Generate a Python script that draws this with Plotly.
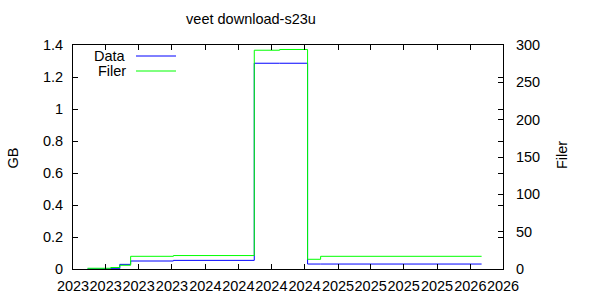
import plotly.graph_objects as go

# Data
dates = ["2023-02-10", "2023-04-15", "2023-05-10", "2023-06-09", "2023-10-05",
         "2024-05-15", "2024-07-24", "2024-10-09", "2024-11-14", "2026-02-01"]
data_gb = [0.0005, 0.002, 0.029, 0.050, 0.054, 1.286, 1.286, 0.031, 0.031, 0.031]
filer = [1, 2, 5, 17, 18, 293, 294, 13, 17, 17]

title_text = "veet download-s23u"
FONT = "Liberation Sans, Arial, sans-serif"
FS = 14.5

fig = go.Figure()
fig.add_trace(go.Scatter(x=dates, y=data_gb, mode="lines", line=dict(color="#0000ff", width=1, shape="hv"),
                         name="Data", yaxis="y", showlegend=False))
fig.add_trace(go.Scatter(x=dates, y=filer, mode="lines", line=dict(color="#00ff00", width=1, shape="hv"),
                         name="Filer", yaxis="y2", showlegend=False))

axis_common = dict(showline=True, linecolor="black", linewidth=1, ticks="inside", ticklen=5,
                   tickcolor="black", showgrid=False, zeroline=False, automargin=False,
                   tickfont=dict(family=FONT, size=FS, color="black"))

fig.update_layout(
    width=600, height=300,
    margin=dict(l=73, r=97, t=45, b=31),
    paper_bgcolor="white", plot_bgcolor="white",
    font=dict(family=FONT, size=FS, color="black"),
    title=dict(text=title_text, x=251/600, xanchor="center", y=1-19/300, yanchor="middle",
               font=dict(family=FONT, size=FS, color="black")),
    xaxis=dict(type="date", range=["2023-01-01", "2026-04-01"], tick0="2023-01-01", dtick="M3",
               tickformat="%Y", tickangle=0, mirror="ticks", ticklabelstandoff=4, **axis_common),
    yaxis=dict(range=[0, 1.4], dtick=0.2, mirror="ticks", ticklabelstandoff=6, **axis_common),
    yaxis2=dict(range=[0, 300], dtick=50, overlaying="y", side="right", ticklabelstandoff=9, **axis_common),
    showlegend=False,
)

# Axis titles
fig.add_annotation(text="GB", xref="paper", yref="paper", x=(12.5-73)/430, y=(269-158)/224, textangle=-90,
                   xanchor="center", yanchor="middle",
                   showarrow=False, font=dict(family=FONT, size=FS, color="black"))
fig.add_annotation(text="Filer", xref="paper", yref="paper", x=(562-73)/430, y=(269-155)/224, textangle=-90,
                   xanchor="center", yanchor="middle",
                   showarrow=False, font=dict(family=FONT, size=FS, color="black"))

# Manual legend (text left of sample line, like gnuplot)
legend_items = [("Data", "#0000ff", 56), ("Filer", "#00ff00", 71)]
for label, color, ypx in legend_items:
    fig.add_annotation(text=label, xref="paper", yref="paper", x=(128-73)/430, y=(269-ypx)/224,
                       xanchor="right", yanchor="middle", showarrow=False,
                       font=dict(family=FONT, size=FS, color="black"))
    fig.add_shape(type="line", xref="paper", yref="paper", x0=(136-73)/430, x1=(176-73)/430,
                  y0=(269-ypx)/224, y1=(269-ypx)/224, line=dict(color=color, width=1))

fig.write_html("out.html")
